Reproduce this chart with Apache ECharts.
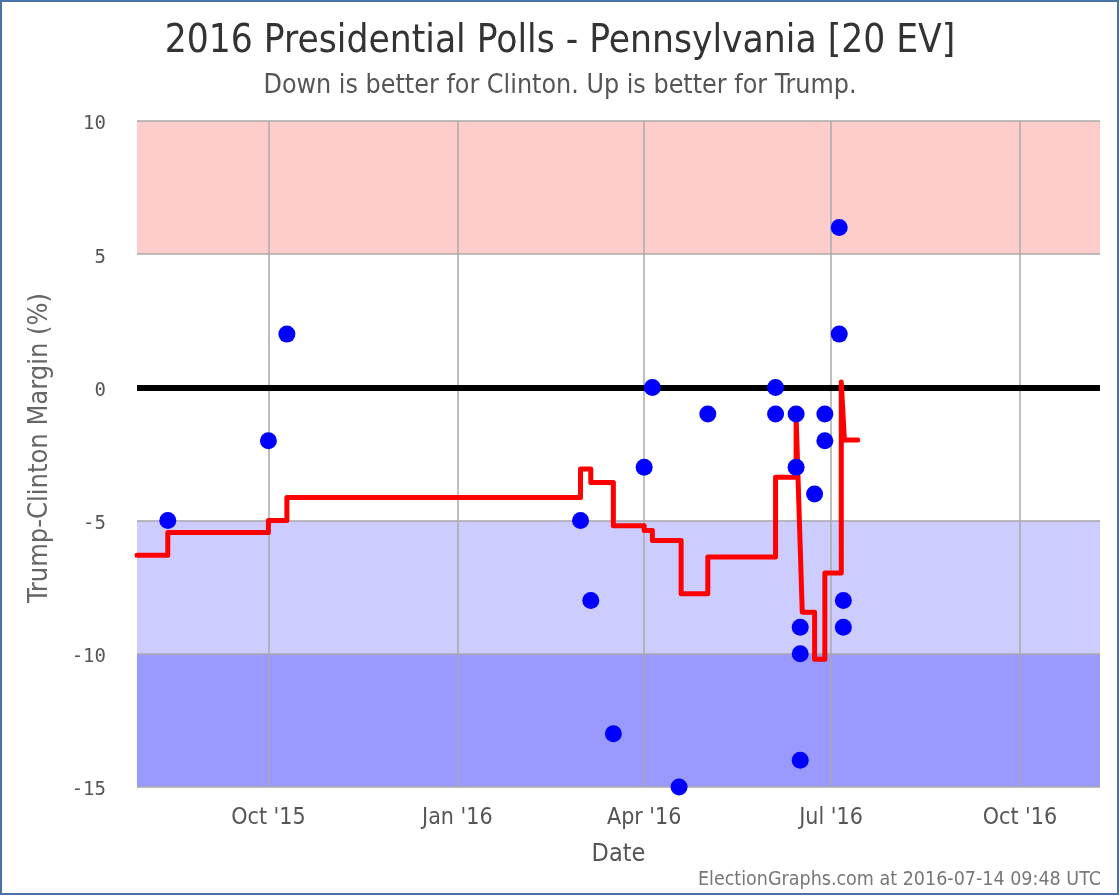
<!DOCTYPE html>
<html><head><meta charset="utf-8">
<script src="https://cdn.jsdelivr.net/npm/echarts@6/dist/echarts.min.js"></script>
<style>html,body{margin:0;padding:0;background:#fff}#c{width:1120px;height:896px}</style>
</head><body><div id="c"></div>
<script>
// Individual polls (date, Trump-Clinton margin)
const pollDates = ['2015-08-13','2015-10-01','2015-10-10','2016-03-01','2016-03-06','2016-03-17','2016-04-01','2016-04-05','2016-04-18','2016-05-02','2016-06-04','2016-06-04','2016-06-14','2016-06-14','2016-06-16','2016-06-16','2016-06-16','2016-06-23','2016-06-28','2016-06-28','2016-07-05','2016-07-05','2016-07-07','2016-07-07'];
const pollMargins = [-5,-2,2,-5,-8,-13,-3,0,-15,-1,0,-1,-1,-3,-9,-10,-14,-4,-1,-2,6,2,-8,-9];
// Poll average (step line vertices)
const avgDates = ['2015-07-29','2015-08-13','2015-08-13','2015-10-01','2015-10-01','2015-10-10','2015-10-10','2016-03-01','2016-03-01','2016-03-06','2016-03-06','2016-03-17','2016-03-17','2016-04-01','2016-04-01','2016-04-05','2016-04-05','2016-04-19','2016-04-19','2016-05-02','2016-05-02','2016-06-04','2016-06-04','2016-06-14','2016-06-14','2016-06-17','2016-06-23','2016-06-23','2016-06-28','2016-06-28','2016-07-06','2016-07-06','2016-07-07 12:00','2016-07-14'];
const avgMargins = [-6.3,-6.3,-5.45,-5.45,-5.0,-5.0,-4.13,-4.13,-3.06,-3.06,-3.57,-3.57,-5.19,-5.19,-5.37,-5.37,-5.75,-5.75,-7.75,-7.75,-6.37,-6.37,-3.37,-3.37,-1.1,-8.44,-8.44,-10.2,-10.2,-6.97,-6.97,0.2,-1.97,-1.97];
// Axis ranges and ticks
const xMin = '2015-07-29', xMax = '2016-11-09';
const xTickMonths = [0,3,6,9]; // Jan, Apr, Jul, Oct
const monthNames = ['Jan','Feb','Mar','Apr','May','Jun','Jul','Aug','Sep','Oct','Nov','Dec'];
const yMin = -15, yMax = 10, yStep = 5;
// Shaded bands [from, to]
const bandRanges = [[5,10],[-10,-5],[-15,-10]];
const bandColors = ['#ffcccc','#ccccff','#9999ff'];

const condensed = "'DejaVu Sans Condensed','Liberation Sans Narrow','Open Sans',sans-serif";
const chart = echarts.init(document.getElementById('c'), null, {renderer:'canvas'});
chart.setOption({
  animation:false,
  backgroundColor:'#fff',
  title:{
    text:'2016 Presidential Polls - Pennsylvania [20 EV]',
    subtext:'Down is better for Clinton. Up is better for Trump.',
    left:'center', top:17, itemGap:12,
    textStyle:{fontFamily:condensed,fontSize:38.5,fontWeight:'normal',color:'#333'},
    subtextStyle:{fontFamily:condensed,fontSize:26.6,color:'#555'}
  },
  graphic:[
    {type:'rect',shape:{x:1,y:1,width:1117,height:893},style:{fill:'none',stroke:'#4a72a8',lineWidth:2},silent:true,z:100},
    {type:'text',right:19,bottom:6,style:{text:'ElectionGraphs.com at 2016-07-14 09:48 UTC',font:"19.5px "+condensed,fill:'#777'}}
  ],
  grid:{left:137,right:20,top:121,bottom:109,containLabel:false},
  xAxis:{
    type:'time', min:xMin, max:xMax, splitNumber:5, z:3,
    name:'Date', nameLocation:'middle', nameGap:55,
    nameTextStyle:{fontFamily:condensed,fontSize:25,color:'#555'},
    axisLine:{show:false}, axisTick:{show:false},
    axisLabel:{fontFamily:condensed,fontSize:23,color:'#555',margin:20,showMinLabel:false,showMaxLabel:false,
      formatter:function(v){const d=new Date(v); if(d.getDate()!==1||xTickMonths.indexOf(d.getMonth())<0) return ''; return monthNames[d.getMonth()]+" '"+String(d.getFullYear()).slice(2);}},
    splitLine:{show:true,showMinLine:false,showMaxLine:false,lineStyle:{color:'#aaaaaa',width:1.5}}
  },
  yAxis:{
    type:'value', min:yMin, max:yMax, interval:yStep, z:3,
    name:'Trump-Clinton Margin (%)', nameLocation:'middle', nameGap:84,
    nameTextStyle:{fontFamily:condensed,fontSize:27,color:'#666',padding:[0,0,0,12]},
    axisLine:{show:false}, axisTick:{show:false},
    axisLabel:{color:'#555',margin:31,
      formatter:function(v){return '{a|'+v+'}';},
      rich:{a:{fontFamily:"'DejaVu Sans Mono',monospace",fontSize:19,color:'#555',padding:[7,0,0,0]}}},
    splitLine:{lineStyle:{color:'#aaaaaa',width:1.5}}
  },
  series:[
    {type:'line', data:[], z:1, silent:true,
     markArea:{silent:true, data: bandRanges.map((r,i)=>[{yAxis:r[0],itemStyle:{color:bandColors[i]}},{yAxis:r[1]}])},
     markLine:{silent:true, symbol:'none', label:{show:false}, lineStyle:{color:'#000',width:6,type:'solid'}, data:[{yAxis:0}]}
    },
    {type:'line', name:'Average', z:5, showSymbol:false, silent:true,
     data: avgDates.map((d,i)=>[d,avgMargins[i]]),
     lineStyle:{color:'#ff0000',width:5,cap:'round',join:'round'}},
    {type:'scatter', name:'Polls', z:6, symbolSize:17,
     data: pollDates.map((d,i)=>[d,pollMargins[i]]),
     itemStyle:{color:'#0000ff',opacity:1}}
  ]
});
</script></body></html>
